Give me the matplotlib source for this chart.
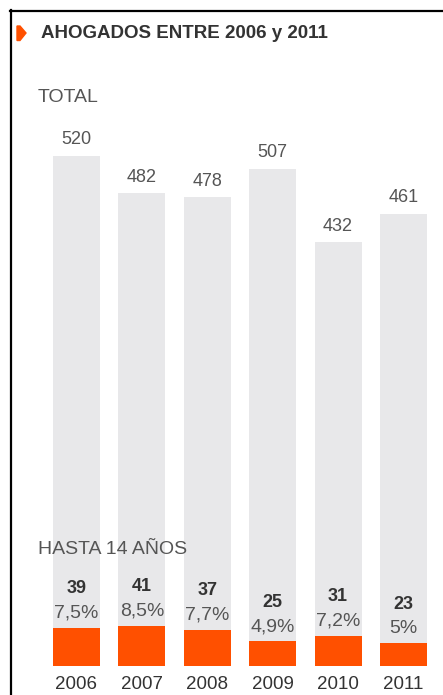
import matplotlib.pyplot as plt
from matplotlib.lines import Line2D
from matplotlib.patches import Polygon

years = ["2006", "2007", "2008", "2009", "2010", "2011"]
totals = [520, 482, 478, 507, 432, 461]
kids = [39, 41, 37, 25, 31, 23]
kids_pct = ["7,5%", "8,5%", "7,7%", "4,9%", "7,2%", "5%"]

GRAY = "#e8e8ea"
ORANGE = "#ff5000"
TXT = "#555555"
DARK = "#333333"

plt.rcParams["font.family"] = ["Liberation Sans", "DejaVu Sans"]

W, H = 443, 695
fig = plt.figure(figsize=(W / 100, H / 100), dpi=100)


def fx(px):
    return px / W


def fy(py):
    return 1 - py / H


ax = fig.add_axes([fx(43.8), fy(666), fx(392.4), 588.6 / H])
x = list(range(len(years)))
ax.bar(x, totals, width=0.72, color=GRAY, zorder=1)
ax.bar(x, kids, width=0.72, color=ORANGE, zorder=2)
ax.set_xlim(-0.5, 5.5)
ax.set_ylim(0, 600)

for i, v in enumerate(totals):
    ax.annotate(str(v), (i, v), xytext=(0, 11.5), textcoords="offset points",
                ha="center", va="center", fontsize=13, color=TXT)
for i, v in enumerate(kids):
    ax.annotate(str(v), (i, v), xytext=(0, 28), textcoords="offset points",
                ha="center", va="center", fontsize=13, color=DARK, fontweight="bold")
    ax.annotate(kids_pct[i], (i, v), xytext=(0, 10.5), textcoords="offset points",
                ha="center", va="center", fontsize=14, color=TXT)

ax.set_xticks(x)
ax.set_xticklabels(years, fontsize=13.5, color=DARK)
ax.tick_params(axis="x", length=0, pad=7)
ax.set_yticks([])
for s in ax.spines.values():
    s.set_visible(False)

# frame lines
fig.add_artist(Line2D([fx(10.5), fx(10.5)], [0, fy(10)], color="black", lw=1.6))
fig.add_artist(Line2D([fx(9.7), 1], [fy(11), fy(11)], color="black", lw=1.6))

# title marker
pts = [(17, 26), (20, 26), (26, 33), (20, 40.5), (17, 40.5)]
fig.add_artist(Polygon([(fx(a), fy(b)) for a, b in pts], closed=True,
                       color=ORANGE, transform=fig.transFigure))

fig.text(fx(41), fy(33), "AHOGADOS ENTRE 2006 y 2011", fontsize=13.5,
         fontweight="bold", color=DARK, va="center", ha="left")
fig.text(fx(38), fy(98), "TOTAL", fontsize=14, color=TXT, va="center", ha="left")
fig.text(fx(38), fy(549), "HASTA 14 AÑOS", fontsize=14, color=TXT,
         va="center", ha="left")

fig.savefig("out.png", dpi=100)
